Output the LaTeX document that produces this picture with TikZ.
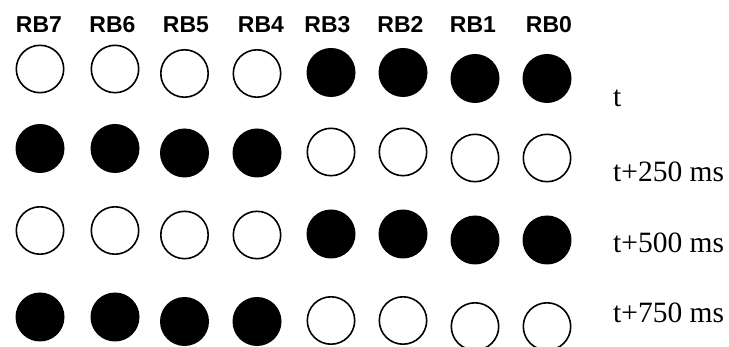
\documentclass[tikz,border=0pt]{standalone}
\usepackage{fontspec}
\setmainfont{Liberation Serif}
\setsansfont{Liberation Sans}
\usepackage{tikz}
\usetikzlibrary{positioning}

\begin{document}
\begin{tikzpicture}[
  x=1pt, y=-1pt,
  led/.style={circle, inner sep=0pt, outer sep=0pt},
  ledon/.style={led, fill=black, minimum size=49pt},
  ledoff/.style={led, draw, line width=1.6pt, minimum size=47.4pt},
  bitlbl/.style={anchor=base, inner sep=0pt, font=\sffamily\bfseries\fontsize{23}{23}\selectfont},
  timelbl/.style={anchor=base west, inner sep=0pt, font=\rmfamily\fontsize{29.5}{30}\selectfont},
]
\useasboundingbox (0,0) rectangle (729,347);

% Port bit labels
\node[bitlbl] (lb7) at (39,33) {RB7};
\node[bitlbl] (lb6) at (112.5,33) {RB6};
\node[bitlbl] (lb5) at (186,33) {RB5};
\node[bitlbl] (lb4) at (261,33) {RB4};
\node[bitlbl] (lb3) at (327.5,33) {RB3};
\node[bitlbl] (lb2) at (400.5,33) {RB2};
\node[bitlbl] (lb1) at (473,33) {RB1};
\node[bitlbl] (lb0) at (549,33) {RB0};

% Row t
\node[ledoff] (r1b7) at (40,69) {};
\node[ledoff] (r1b6) at (115,69) {};
\node[ledoff] (r1b5) at (184.5,73.5) {};
\node[ledoff] (r1b4) at (257,73.5) {};
\node[ledon]  (r1b3) at (331,72.5) {};
\node[ledon]  (r1b2) at (403,72.5) {};
\node[ledon]  (r1b1) at (475,78.5) {};
\node[ledon]  (r1b0) at (547,78.5) {};

% Row t+250 ms
\node[ledon]  (r2b7) at (40,148.5) {};
\node[ledon]  (r2b6) at (115,148.5) {};
\node[ledon]  (r2b5) at (184.5,153) {};
\node[ledon]  (r2b4) at (257,153) {};
\node[ledoff] (r2b3) at (331,152) {};
\node[ledoff] (r2b2) at (403,152) {};
\node[ledoff] (r2b1) at (475,158) {};
\node[ledoff] (r2b0) at (547,158) {};

% Row t+500 ms
\node[ledoff] (r3b7) at (40,230.5) {};
\node[ledoff] (r3b6) at (115,230.5) {};
\node[ledoff] (r3b5) at (184.5,235) {};
\node[ledoff] (r3b4) at (257,235) {};
\node[ledon]  (r3b3) at (331,234) {};
\node[ledon]  (r3b2) at (403,234) {};
\node[ledon]  (r3b1) at (475,240) {};
\node[ledon]  (r3b0) at (547,240) {};

% Row t+750 ms
\node[ledon]  (r4b7) at (40,317) {};
\node[ledon]  (r4b6) at (115,317) {};
\node[ledon]  (r4b5) at (184.5,321.5) {};
\node[ledon]  (r4b4) at (257,321.5) {};
\node[ledoff] (r4b3) at (331,320.5) {};
\node[ledoff] (r4b2) at (403,320.5) {};
\node[ledoff] (r4b1) at (475,326.5) {};
\node[ledoff] (r4b0) at (547,326.5) {};

% Time stamps
\node[timelbl] (t0) at (613,107) {t};
\node[timelbl] (t1) at (613,182) {t+250 ms};
\node[timelbl] (t2) at (613,253) {t+500 ms};
\node[timelbl] (t3) at (613,323) {t+750 ms};

\end{tikzpicture}
\end{document}
